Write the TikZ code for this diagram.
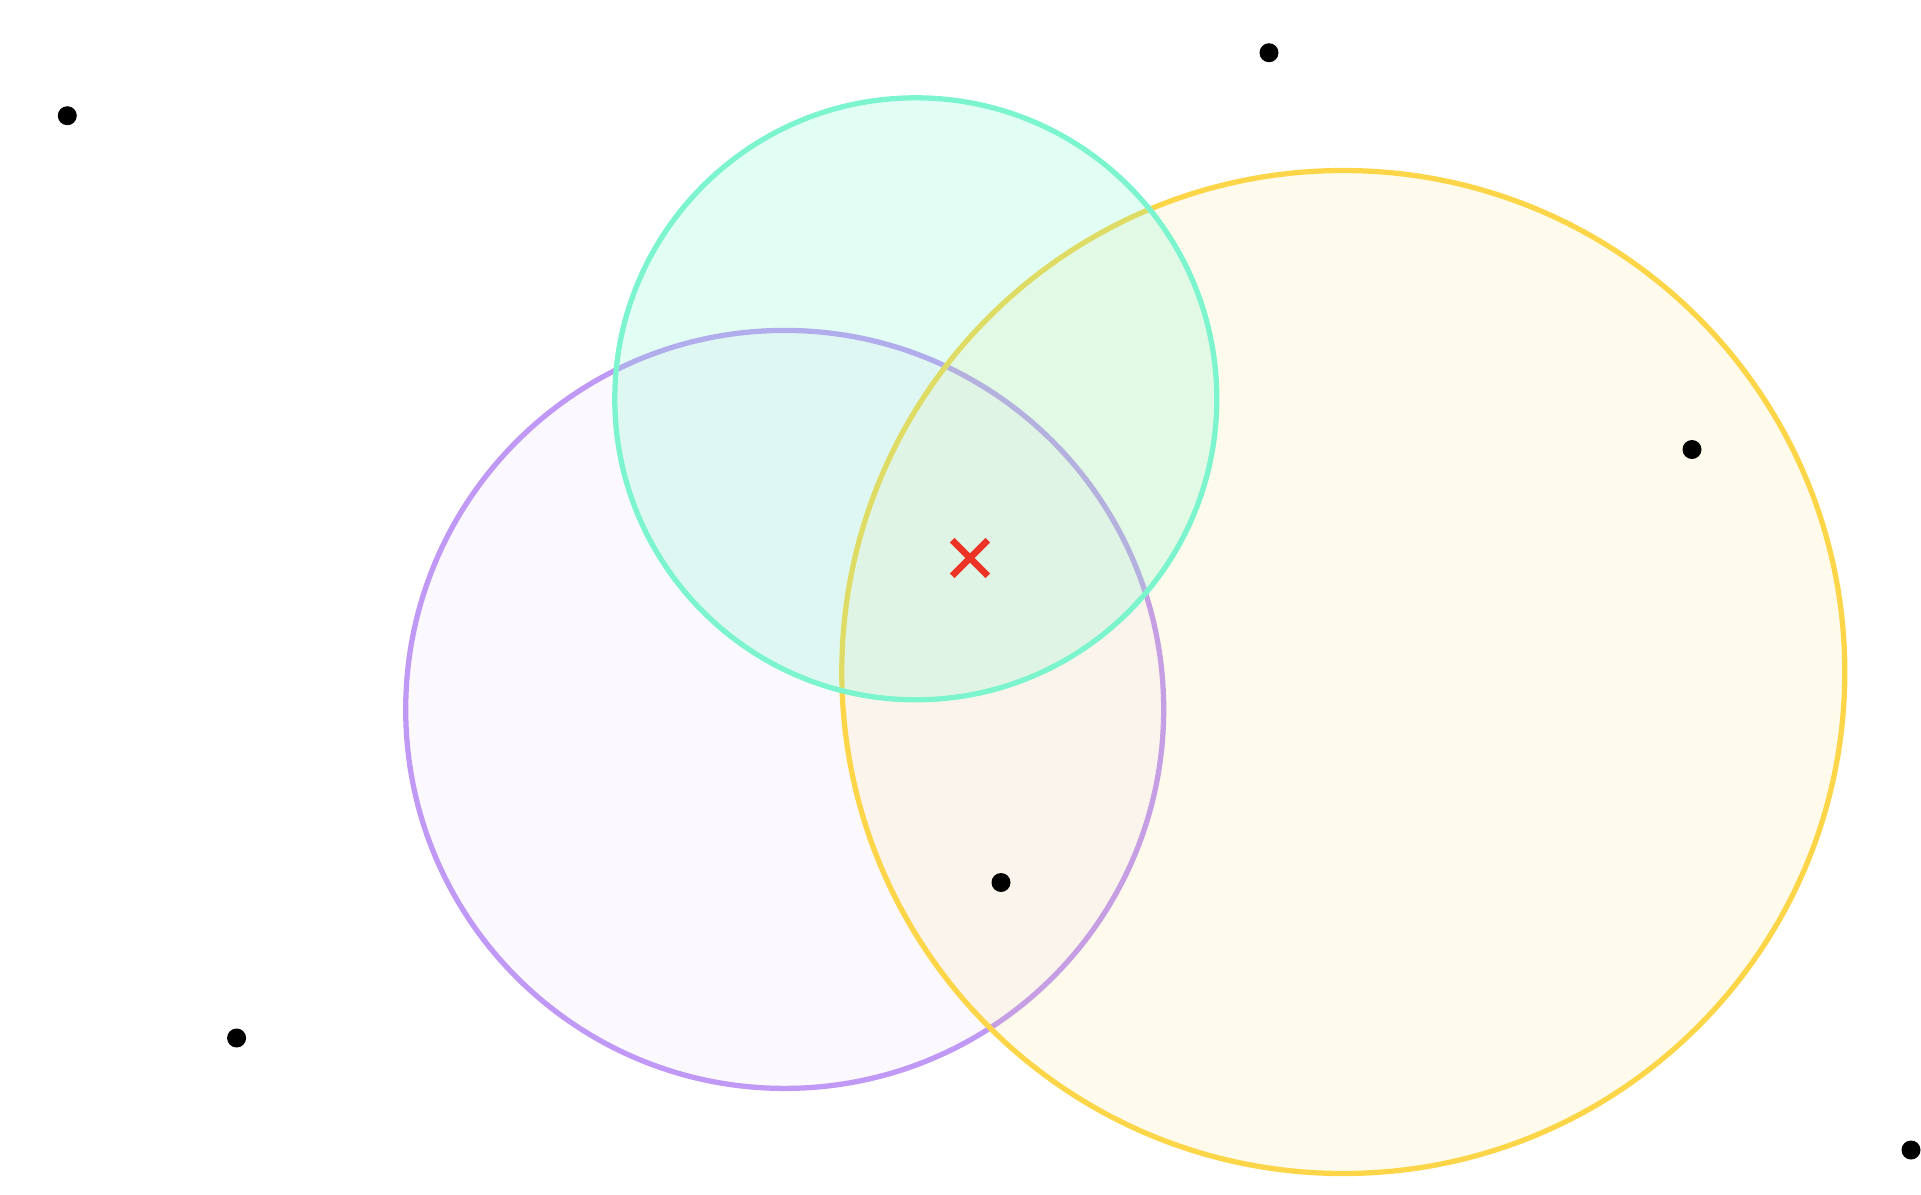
\documentclass[tikz,border=0pt]{standalone}
\usepackage{tikz}
\usetikzlibrary{shapes,positioning}

\definecolor{setpurple}{RGB}{192,152,245}
\definecolor{setyellow}{RGB}{252,214,72}
\definecolor{setgreen}{RGB}{124,245,206}
\definecolor{crossred}{RGB}{236,52,38}

\tikzset{
  setdisc/.style={circle, draw=#1, fill=#1, line width=1.5pt, inner sep=0pt},
  pt/.style={circle, fill=black, inner sep=0pt, minimum size=0.19cm},
  centremark/.style={cross out, draw=crossred, line width=1.9pt, inner sep=0pt, minimum size=0.29cm}
}

\begin{document}
\begin{tikzpicture}
  \useasboundingbox (0,0) rectangle (19.21,-11.94);

  \node[setdisc=setpurple, fill opacity=0.07, minimum size=7.58cm]
    (sA) at ({7.847}, {-7.094}) {};
  \node[setdisc=setyellow, fill opacity=0.10, minimum size=10.03cm]
    (sB) at ({13.433}, {-6.72}) {};
  \node[setdisc=setgreen, fill opacity=0.22, minimum size=6.02cm]
    (sC) at ({9.158}, {-3.988}) {};

  \node[centremark] (mid) at ({9.70}, {-5.58}) {};

  \foreach \name/\x/\y in
    {
        p1/0.673/1.157, p2/12.69/0.527, p3/16.92/4.495,
        p4/10.01/8.825, p5/2.366/10.38, p6/19.11/11.50
    }
    {
        \node[pt] (\name) at ({\x}, {-\y}) {};
    }
\end{tikzpicture}
\end{document}
